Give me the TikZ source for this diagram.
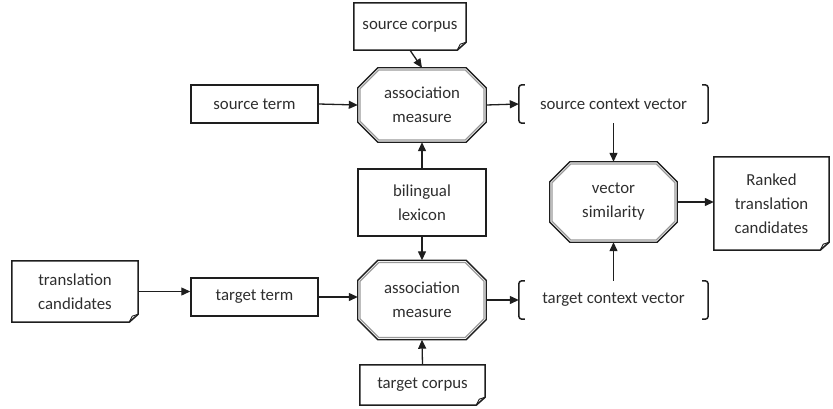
\documentclass[tikz,border=0pt]{standalone}
\usepackage{fontspec}
\setmainfont{Carlito}
\usetikzlibrary{arrows.meta,calc}
\definecolor{ln}{HTML}{1E1E1E}
\definecolor{tx}{HTML}{2E2E2E}
\definecolor{inner}{HTML}{9A9A9A}
\newcommand\docframe[1]{%
  \draw[frame] (#1.north west) -- (#1.north east) -- ($(#1.south east)+(0,-8)$) -- ($(#1.south east)+(-9,0)$) -- (#1.south west) -- cycle;
  \draw[frame, line width=0.9pt] ($(#1.south east)+(-9,0)$) -- ($(#1.south east)+(-6,-6)$) -- ($(#1.south east)+(0,-8)$);}
\newcommand\octframe[1]{%
  \draw[frame, line width=1.3pt] ($(#1.north west)+(20,0)$) -- ($(#1.north east)+(-20,0)$) -- ($(#1.north east)+(0,20)$) -- ($(#1.south east)+(0,-20)$) -- ($(#1.south east)+(-20,0)$) -- ($(#1.south west)+(20,0)$) -- ($(#1.south west)+(0,-20)$) -- ($(#1.north west)+(0,20)$) -- cycle;
  \draw[draw=inner, line width=1.3pt] ($(#1.north west)+(21,2.2)$) -- ($(#1.north east)+(-21,2.2)$) -- ($(#1.north east)+(-2.2,21)$) -- ($(#1.south east)+(-2.2,-21)$) -- ($(#1.south east)+(-21,-2.2)$) -- ($(#1.south west)+(21,-2.2)$) -- ($(#1.south west)+(2.2,-21)$) -- ($(#1.north west)+(2.2,21)$) -- cycle;}
\newcommand\brackframe[1]{%
  \draw[frame, rounded corners=3pt] ($(#1.north west)+(6,0)$) -- (#1.north west) -- (#1.south west) -- ($(#1.south west)+(6,0)$);
  \draw[frame, rounded corners=3pt] ($(#1.north east)+(-6,0)$) -- (#1.north east) -- (#1.south east) -- ($(#1.south east)+(-6,0)$);}
\begin{document}
\begin{tikzpicture}[x=1pt,y=-1pt,
  font=\fontsize{16.8}{24}\selectfont,
  frame/.style={draw=ln, line width=1.5pt, line join=miter},
  lbl/.style={align=center, inner sep=0pt, text=tx},
  plainbox/.style={lbl, draw=ln, line width=1.5pt},
  conn/.style={draw=ln, line width=1.3pt, -{Triangle[length=9pt,width=8pt]}}]
\useasboundingbox (0,0) rectangle (833,408);
% nodes
\node[lbl, minimum width=112pt, minimum height=47pt] (sc) at (410,26.5) {source corpus};
\node[plainbox, minimum width=127pt, minimum height=38pt] (st) at (254.5,104) {source term};
\node[lbl, minimum width=128pt, minimum height=74pt] (am1) at (422,105) {association\\measure};
\node[lbl, minimum width=189pt, minimum height=38pt] (scv) at (613.5,104) {source context vector};
\node[plainbox, minimum width=128pt, minimum height=67pt] (bl) at (422,202.5) {bilingual\\lexicon};
\node[lbl, minimum width=127pt, minimum height=80pt] (vs) at (613.5,202) {vector\\similarity};
\node[lbl, minimum width=115pt, minimum height=93pt] (rk) at (771.5,203.5) {Ranked\\translation\\candidates};
\node[lbl, minimum width=128pt, minimum height=79pt] (am2) at (422,300) {association\\measure};
\node[lbl, minimum width=189pt, minimum height=38pt] (tcv) at (613.5,300) {target context vector};
\node[plainbox, minimum width=127pt, minimum height=38pt] (tt) at (254.5,297) {target term};
\node[lbl, minimum width=126pt, minimum height=61pt] (tc) at (75,291.5) {translation\\candidates};
\node[lbl, minimum width=125pt, minimum height=40pt] (tco) at (422.5,385) {target corpus};
% frames
\docframe{sc}\docframe{rk}\docframe{tc}\docframe{tco}
\octframe{am1}\octframe{vs}\octframe{am2}
\brackframe{scv}\brackframe{tcv}
% connectors
\draw[conn] (sc.south) -- (am1.north);
\draw[conn] (st.east) -- (am1.west);
\draw[conn] (am1.east) -- (scv.west);
\draw[conn] (scv.south) -- (vs.north);
\draw[conn] (bl.north) -- (am1.south);
\draw[conn] (bl.south) -- (am2.north);
\draw[conn] (tc.east) -- (tc.east -| tt.west);
\draw[conn] (tt.east) -- (tt.east -| am2.west);
\draw[conn] (am2.east) -- (tcv.west);
\draw[conn] (tcv.north) -- (vs.south);
\draw[conn] (tco.north) -- (am2.south);
\draw[conn] (vs.east) -- (vs.east -| rk.west);
\end{tikzpicture}
\end{document}
